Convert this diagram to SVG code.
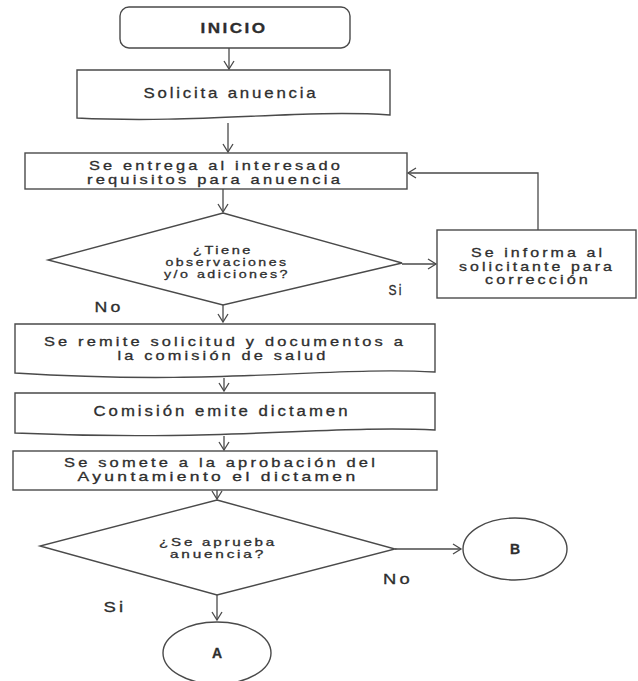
<svg xmlns="http://www.w3.org/2000/svg" width="638" height="681" viewBox="0 0 638 681">
<style>
.s{fill:#fff;stroke:#4a4a4a;stroke-width:1.4}
.t{font-family:"Liberation Sans",Arial,sans-serif;fill:#2e2e2e;stroke:#2e2e2e;stroke-width:0.3;text-anchor:middle;letter-spacing:2.5px}
.d{letter-spacing:2px}
.b{font-weight:bold;letter-spacing:2px}
.c{fill:none;stroke:#4a4a4a;stroke-width:1.3}
</style>
<defs>
<marker id="ar" markerUnits="userSpaceOnUse" markerWidth="12" markerHeight="12" refX="9" refY="6" orient="auto">
<path d="M1,1 L9,6 L1,11" fill="none" stroke="#4a4a4a" stroke-width="1.3"/>
</marker>
</defs>
<rect width="638" height="681" fill="#fff"/>
<g id="connectors">
<line class="c" x1="229" y1="48" x2="229" y2="69" marker-end="url(#ar)"/>
<line class="c" x1="228" y1="123" x2="228" y2="152" marker-end="url(#ar)"/>
<line class="c" x1="223" y1="189" x2="223" y2="212" marker-end="url(#ar)"/>
<line class="c" x1="402" y1="264" x2="436" y2="264" marker-end="url(#ar)"/>
<polyline class="c" points="538,230 538,173 408,173" marker-end="url(#ar)"/>
<line class="c" x1="223" y1="305" x2="223" y2="322" marker-end="url(#ar)"/>
<line class="c" x1="224" y1="378" x2="224" y2="391" marker-end="url(#ar)"/>
<line class="c" x1="224" y1="436" x2="224" y2="450" marker-end="url(#ar)"/>
<line class="c" x1="217" y1="490" x2="217" y2="499" marker-end="url(#ar)"/>
<line class="c" x1="395" y1="549" x2="461" y2="549" marker-end="url(#ar)"/>
<line class="c" x1="217" y1="595" x2="217" y2="620" marker-end="url(#ar)"/>
</g>
<g id="inicio">
<rect class="s" x="120" y="7" width="230" height="41" rx="9"/>
<text class="t b" x="234" y="33" font-size="14" textLength="67" lengthAdjust="spacingAndGlyphs">INICIO</text>
</g>
<g id="solicita">
<path class="s" d="M77,70 H390 V115 C300,109 200,124 77,118 Z"/>
<text class="t" x="231" y="98" font-size="15" textLength="175" lengthAdjust="spacingAndGlyphs">Solicita anuencia</text>
</g>
<g id="entrega">
<rect class="s" x="25" y="153" width="382" height="36"/>
<text class="t" x="216" y="169.5" font-size="13" textLength="254" lengthAdjust="spacingAndGlyphs">Se entrega al interesado</text>
<text class="t" x="215" y="183.5" font-size="13" textLength="256" lengthAdjust="spacingAndGlyphs">requisitos para anuencia</text>
</g>
<g id="decision1">
<polygon class="s" points="223,213 402,263 223,305 48,260"/>
<text class="t d" x="223" y="254" font-size="11.5" textLength="60" lengthAdjust="spacingAndGlyphs">¿Tiene</text>
<text class="t d" x="227" y="266" font-size="11.5" textLength="123" lengthAdjust="spacingAndGlyphs">observaciones</text>
<text class="t d" x="227" y="278" font-size="11.5" textLength="126" lengthAdjust="spacingAndGlyphs">y/o adiciones?</text>
</g>
<g id="informa">
<rect class="s" x="437" y="230" width="199" height="68"/>
<text class="t" x="538" y="257" font-size="13" textLength="134" lengthAdjust="spacingAndGlyphs">Se informa al</text>
<text class="t" x="537" y="270.5" font-size="13" textLength="156" lengthAdjust="spacingAndGlyphs">solicitante para</text>
<text class="t" x="538" y="284" font-size="13" textLength="106" lengthAdjust="spacingAndGlyphs">corrección</text>
</g>
<g id="lbl-si1"><text class="t" x="396" y="295" font-size="14" textLength="15" lengthAdjust="spacingAndGlyphs">Si</text></g>
<g id="lbl-no1"><text class="t" x="109" y="312" font-size="14" textLength="29" lengthAdjust="spacingAndGlyphs">No</text></g>
<g id="remite">
<path class="s" d="M15,324 H435 V372 C330,366 220,386 15,373 Z"/>
<text class="t" x="225" y="346" font-size="13" textLength="362" lengthAdjust="spacingAndGlyphs">Se remite solicitud y documentos a</text>
<text class="t" x="223" y="360" font-size="13" textLength="211" lengthAdjust="spacingAndGlyphs">la comisión de salud</text>
</g>
<g id="comision">
<path class="s" d="M15,393 H435 V430 C330,425 220,442 15,433 Z"/>
<text class="t" x="222" y="416" font-size="14" textLength="257" lengthAdjust="spacingAndGlyphs">Comisión emite dictamen</text>
</g>
<g id="somete">
<rect class="s" x="13" y="451" width="424" height="39"/>
<text class="t" x="221" y="467" font-size="13" textLength="314" lengthAdjust="spacingAndGlyphs">Se somete a la aprobación del</text>
<text class="t" x="218" y="481" font-size="13" textLength="281" lengthAdjust="spacingAndGlyphs">Ayuntamiento el dictamen</text>
</g>
<g id="decision2">
<polygon class="s" points="217,500 395,549 217,595 40,546"/>
<text class="t d" x="218" y="546" font-size="11" textLength="118" lengthAdjust="spacingAndGlyphs">¿Se aprueba</text>
<text class="t d" x="218" y="558" font-size="11" textLength="96" lengthAdjust="spacingAndGlyphs">anuencia?</text>
</g>
<g id="lbl-no2"><text class="t" x="398" y="584" font-size="14" textLength="30" lengthAdjust="spacingAndGlyphs">No</text></g>
<g id="lbl-si2"><text class="t" x="115" y="612" font-size="14" textLength="23" lengthAdjust="spacingAndGlyphs">Si</text></g>
<g id="B">
<ellipse class="s" cx="515" cy="549" rx="52" ry="31"/>
<text class="t b" x="516" y="554" font-size="14">B</text>
</g>
<g id="A">
<ellipse class="s" cx="217" cy="653" rx="54" ry="31"/>
<text class="t b" x="218" y="658" font-size="14">A</text>
</g>
</svg>
